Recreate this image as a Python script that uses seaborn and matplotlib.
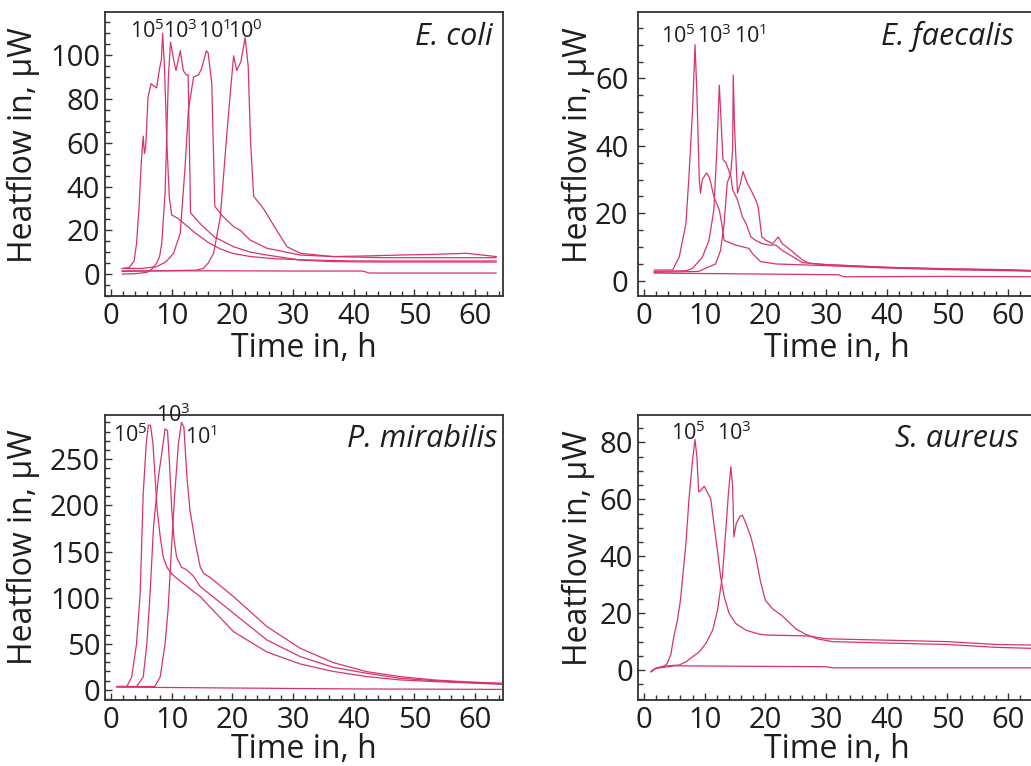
import numpy as np
import pandas as pd
import seaborn as sns
import matplotlib
matplotlib.use("Agg")
import matplotlib.pyplot as plt
from matplotlib.ticker import MultipleLocator

# ---------------- data ----------------
# E. coli
ec_t_1e5 = [1.8, 3.0, 3.8, 4.2, 4.6, 5.0, 5.3, 5.5, 5.7, 6.1, 6.6, 7.0, 7.5, 8.0, 8.3, 8.5, 8.8, 9.2, 9.6, 10.0, 11.0, 12.5, 14.0, 16.0, 18.0, 20.0, 23.0, 27.0, 32.0, 40.0, 48.0, 56.0, 63.5]
ec_v_1e5 = [2.5, 3.0, 6.0, 14.0, 30.0, 52.0, 63.0, 55.0, 58.0, 81.0, 87.0, 86.0, 85.0, 94.0, 98.0, 110.0, 95.0, 60.0, 35.0, 27.0, 25.5, 22.0, 18.5, 14.5, 11.5, 9.5, 8.0, 7.0, 6.5, 6.0, 6.0, 6.0, 6.0]
ec_t_1e3 = [1.8, 4.0, 5.9, 6.8, 7.5, 8.0, 8.35, 8.9, 9.2, 9.45, 9.8, 10.3, 10.7, 11.4, 11.9, 12.35, 12.7, 12.9, 13.1, 14.7, 17.0, 20.2, 23.0, 25.7, 31.2, 36.6, 45.0, 55.0, 63.5]
ec_v_1e3 = [0.0, 0.2, 0.8, 2.5, 4.9, 8.0, 14.0, 37.0, 65.0, 90.0, 106.0, 98.0, 93.0, 102.0, 93.0, 91.0, 91.0, 60.0, 28.0, 23.0, 17.0, 12.5, 10.0, 8.7, 6.4, 5.7, 5.5, 5.5, 5.5]
ec_t_1e1 = [1.8, 5.0, 7.5, 9.0, 10.3, 11.4, 12.2, 12.75, 13.6, 14.4, 14.9, 15.7, 16.0, 16.6, 17.1, 18.2, 20.2, 21.3, 22.9, 25.7, 31.2, 36.6, 42.0, 47.6, 53.0, 58.6, 63.5]
ec_v_1e1 = [2.6, 2.6, 3.4, 5.5, 9.5, 18.6, 49.0, 75.0, 90.0, 91.0, 93.6, 102.0, 101.0, 87.0, 31.0, 27.0, 21.7, 20.0, 15.6, 11.8, 8.7, 8.0, 8.3, 8.7, 9.0, 9.5, 8.0]
ec_t_1e0 = [1.8, 8.0, 14.0, 15.2, 16.0, 16.9, 18.0, 19.1, 19.6, 20.2, 20.7, 21.4, 22.1, 22.6, 23.0, 23.5, 25.1, 26.2, 27.3, 29.0, 31.2, 36.6, 45.0, 55.0, 63.5]
ec_v_1e0 = [1.2, 1.5, 1.8, 2.6, 5.0, 9.5, 26.0, 64.5, 81.0, 99.7, 93.0, 97.0, 108.0, 95.0, 60.0, 35.5, 30.0, 25.0, 20.0, 12.5, 9.5, 8.0, 7.5, 7.5, 7.5]
ec_t_ctrl = [1.8, 10.0, 20.0, 30.0, 41.5, 42.5, 50.0, 63.5]
ec_v_ctrl = [1.5, 1.5, 1.5, 1.4, 1.4, 0.5, 0.5, 0.5]

# E. faecalis
ef_t_1e5 = [1.65, 4.7, 5.8, 6.9, 7.4, 8.0, 8.4, 8.7, 9.1, 9.3, 9.6, 10.3, 10.8, 11.5, 12.4, 12.8, 13.2, 13.7, 15.1, 17.3, 17.9, 19.2, 21.7, 30.0, 40.0, 50.0, 60.0, 64.5]
ef_v_1e5 = [3.2, 3.2, 7.1, 17.0, 31.0, 51.0, 70.0, 56.0, 30.0, 26.0, 30.0, 32.0, 30.5, 25.0, 21.0, 17.0, 12.0, 11.6, 10.6, 9.6, 8.0, 5.7, 5.0, 4.5, 3.8, 3.3, 3.0, 2.8]
ef_t_1e3 = [1.65, 7.0, 8.0, 9.6, 10.7, 11.5, 12.0, 12.4, 12.6, 13.0, 13.5, 13.9, 14.3, 14.6, 15.4, 16.2, 16.8, 17.6, 18.4, 19.5, 20.6, 21.7, 22.8, 25.0, 26.1, 30.0, 40.0, 50.0, 60.0, 64.5]
ef_v_1e3 = [2.8, 3.0, 3.7, 7.0, 12.0, 21.0, 39.0, 58.0, 51.0, 36.0, 35.0, 33.0, 31.0, 27.0, 24.0, 19.0, 17.0, 13.0, 12.0, 11.0, 10.6, 10.6, 9.0, 6.6, 5.4, 4.8, 4.0, 3.5, 3.2, 3.0]
ef_t_1e1 = [1.65, 9.0, 10.5, 11.8, 12.6, 13.2, 13.7, 14.3, 14.6, 14.7, 14.9, 15.4, 15.9, 16.3, 17.0, 17.6, 18.4, 18.8, 19.4, 20.1, 21.2, 22.1, 22.8, 24.5, 26.1, 27.2, 30.0, 40.0, 50.0, 60.0, 64.5]
ef_v_1e1 = [2.5, 2.8, 4.0, 5.0, 9.0, 17.0, 29.0, 32.0, 39.0, 61.0, 46.0, 26.0, 29.0, 32.4, 29.0, 27.0, 24.0, 22.0, 13.0, 12.0, 11.0, 13.0, 11.0, 8.6, 6.2, 5.2, 4.8, 4.0, 3.6, 3.3, 3.0]
ef_t_ctrl = [1.65, 20.0, 32.0, 33.0, 50.0, 64.5]
ef_v_ctrl = [2.3, 2.0, 1.8, 1.2, 1.3, 1.2]

# P. mirabilis
pm_t_1e5 = [0.93, 2.6, 3.4, 4.2, 4.8, 5.3, 5.8, 6.15, 6.5, 6.9, 7.25, 7.6, 8.1, 8.6, 9.2, 10.0, 10.8, 14.7, 20.2, 25.7, 31.2, 36.6, 42.1, 47.6, 53.1, 64.4]
pm_v_1e5 = [3.6, 3.6, 14.0, 50.0, 105.0, 213.0, 267.0, 287.0, 287.0, 267.0, 231.0, 195.0, 166.0, 144.0, 133.0, 126.0, 121.0, 101.0, 63.0, 41.0, 28.0, 20.0, 14.4, 10.8, 9.0, 6.0]
pm_t_1e3 = [0.93, 4.2, 5.3, 5.9, 6.4, 7.0, 7.8, 8.35, 8.9, 9.3, 9.6, 10.0, 10.4, 10.8, 11.6, 12.5, 13.6, 14.7, 20.2, 25.7, 31.2, 36.6, 42.1, 47.6, 53.1, 64.4]
pm_v_1e3 = [3.6, 3.6, 14.0, 50.0, 101.0, 177.0, 231.0, 256.0, 283.0, 281.0, 249.0, 195.0, 162.0, 144.0, 133.0, 130.0, 123.0, 112.0, 83.0, 54.0, 36.0, 24.5, 18.0, 12.6, 10.0, 6.5]
pm_t_1e1 = [0.93, 7.2, 8.1, 8.9, 9.4, 10.0, 10.5, 11.1, 11.6, 12.0, 12.5, 13.0, 13.9, 14.7, 15.3, 16.3, 20.2, 25.7, 31.2, 36.6, 42.1, 47.6, 53.1, 58.6, 64.4]
pm_v_1e1 = [3.6, 3.6, 14.0, 50.0, 87.0, 159.0, 213.0, 267.0, 290.0, 285.0, 231.0, 195.0, 159.0, 133.0, 126.0, 122.0, 101.0, 68.5, 45.0, 29.6, 19.8, 14.4, 10.8, 8.7, 7.2]
pm_t_ctrl = [0.93, 20.0, 40.0, 64.4]
pm_v_ctrl = [3.0, 2.0, 1.0, 0.5]

# S. aureus
sa_t_1e5 = [1.1, 1.9, 3.3, 3.8, 4.4, 4.9, 5.5, 6.0, 6.9, 7.4, 8.0, 8.4, 8.7, 9.0, 9.3, 9.9, 10.4, 11.0, 11.5, 12.1, 12.6, 13.2, 14.0, 15.1, 16.8, 19.0, 20.6, 27.0, 30.0, 40.0, 50.0, 58.0, 64.5]
sa_v_1e5 = [-0.6, 0.6, 1.4, 2.3, 5.3, 11.7, 17.6, 24.6, 44.5, 60.0, 74.0, 81.0, 75.0, 62.6, 63.0, 64.6, 62.6, 60.0, 51.5, 42.0, 33.0, 25.8, 20.0, 16.4, 14.0, 12.6, 12.3, 12.0, 11.0, 10.5, 10.0, 9.0, 8.8]
sa_t_1e3 = [1.1, 1.9, 3.3, 5.8, 6.9, 8.0, 9.1, 10.2, 11.3, 12.1, 12.9, 13.5, 13.9, 14.3, 14.6, 14.8, 15.2, 15.8, 16.2, 16.8, 17.6, 18.4, 19.2, 20.0, 21.2, 22.8, 25.0, 26.6, 28.5, 31.0, 40.0, 50.0, 58.0, 64.5]
sa_v_1e3 = [-0.6, 0.6, 1.4, 1.8, 2.9, 4.7, 6.4, 9.4, 14.0, 21.0, 33.0, 50.0, 62.0, 71.4, 64.4, 46.8, 51.5, 54.0, 54.4, 51.5, 46.8, 40.0, 31.0, 24.5, 21.5, 19.0, 14.5, 12.6, 11.0, 10.0, 9.5, 9.0, 8.0, 7.6]
sa_t_ctrl = [1.1, 1.9, 5.0, 20.0, 30.0, 31.0, 64.5]
sa_v_ctrl = [-0.6, 0.6, 1.5, 1.3, 1.2, 0.8, 0.8]

species = ["E. coli", "E. faecalis", "P. mirabilis", "S. aureus"]
x_label = "Time in, h"
y_label = "Heatflow in, \u00b5W"

# ---------------- style ----------------
sns.set_style("white")
plt.rcParams["font.family"] = ["Open Sans", "DejaVu Sans"]
plt.rcParams["mathtext.fontset"] = "custom"
plt.rcParams["mathtext.rm"] = "Open Sans"
plt.rcParams["mathtext.it"] = "Open Sans:italic"
plt.rcParams["mathtext.bf"] = "Open Sans:bold"

LINE = "#d8336f"
TXT = "#1e1e1e"

fig = plt.figure(figsize=(10.31, 7.66), dpi=100)
W, H = 1031.0, 766.0


def frame(left, top, bottom, width=398):
    return [left / W, (H - bottom) / H, width / W, (bottom - top) / H]


panels = [
    dict(pos=frame(105, 12, 296), ylim=(-10, 119.7), ymaj=20, ymin=5,
         curves=[(ec_t_1e5, ec_v_1e5), (ec_t_1e3, ec_v_1e3), (ec_t_1e1, ec_v_1e1),
                 (ec_t_1e0, ec_v_1e0), (ec_t_ctrl, ec_v_ctrl)],
         labels=[("10$^5$", 3.1, 108), ("10$^3$", 8.6, 108), ("10$^1$", 14.3, 108), ("10$^0$", 19.3, 108)],
         sp=(0.975, 0.885, "right"), ylab=(-0.163, 0.532), ypad=3.5, xly=-0.125),
    dict(pos=frame(638, 12, 296), ylim=(-4.5, 79.7), ymaj=20, ymin=5,
         curves=[(ef_t_1e5, ef_v_1e5), (ef_t_1e3, ef_v_1e3), (ef_t_1e1, ef_v_1e1),
                 (ef_t_ctrl, ef_v_ctrl)],
         labels=[("10$^5$", 2.8, 70.6), ("10$^3$", 8.8, 70.6), ("10$^1$", 14.8, 70.6)],
         sp=(0.611, 0.885, "left"), ylab=(-0.108, 0.532), ypad=7, xly=-0.125),
    dict(pos=frame(105, 415, 700), ylim=(-11, 298), ymaj=50, ymin=10,
         curves=[(pm_t_1e5, pm_v_1e5), (pm_t_1e3, pm_v_1e3), (pm_t_1e1, pm_v_1e1),
                 (pm_t_ctrl, pm_v_ctrl)],
         labels=[("10$^5$", 0.4, 268.7), ("10$^3$", 7.4, 290), ("10$^1$", 12.2, 267)],
         sp=(0.985, 0.889, "right"), ylab=(-0.163, 0.537), ypad=3.5, xly=-0.116),
    dict(pos=frame(638, 415, 700), ylim=(-10.5, 89.6), ymaj=20, ymin=5,
         curves=[(sa_t_1e5, sa_v_1e5), (sa_t_1e3, sa_v_1e3), (sa_t_ctrl, sa_v_ctrl)],
         labels=[("10$^5$", 4.4, 80.8), ("10$^3$", 12.1, 80.8)],
         sp=(0.646, 0.889, "left"), ylab=(-0.108, 0.533), ypad=3.5, xly=-0.116),
]

for name, p in zip(species, panels):
    ax = fig.add_axes(p["pos"])
    rows = []
    for k, (tt, vv) in enumerate(p["curves"]):
        rows.append(pd.DataFrame({"t": tt, "v": vv, "curve": k}))
    df = pd.concat(rows, ignore_index=True)
    sns.lineplot(data=df, x="t", y="v", units="curve", estimator=None, sort=False,
                 color=LINE, lw=0.9, ax=ax, legend=False)
    ax.set_xlim(-1, 64.6)
    ax.set_ylim(*p["ylim"])
    ax.xaxis.set_major_locator(MultipleLocator(10))
    ax.xaxis.set_minor_locator(MultipleLocator(2))
    ax.yaxis.set_major_locator(MultipleLocator(p["ymaj"]))
    ax.yaxis.set_minor_locator(MultipleLocator(p["ymin"]))
    ax.tick_params(which="both", direction="in", bottom=True, left=True, top=False, right=False,
                   colors="#333333", labelcolor=TXT, labelsize=21, width=1.0)
    ax.tick_params(which="major", length=5)
    ax.tick_params(which="minor", length=3.5)
    ax.tick_params(axis="x", pad=4)
    ax.tick_params(axis="y", pad=p["ypad"])
    for s in ax.spines.values():
        s.set_color("#333333")
        s.set_linewidth(1.3)
        s.set_visible(True)
    ax.set_xlabel(x_label, fontsize=23, color=TXT)
    ax.set_ylabel(y_label, fontsize=23, color=TXT)
    ax.xaxis.set_label_coords(0.5, p["xly"])
    ax.yaxis.set_label_coords(*p["ylab"])
    for txt, tx, ty in p["labels"]:
        ax.text(tx, ty, txt, fontsize=15.5, color=TXT, ha="left", va="baseline", clip_on=False)
    sx, sy, sha = p["sp"]
    ax.text(sx, sy, name, transform=ax.transAxes, fontsize=22, style="italic",
            color=TXT, ha=sha, va="baseline")

fig.savefig("out.png", dpi=100)
